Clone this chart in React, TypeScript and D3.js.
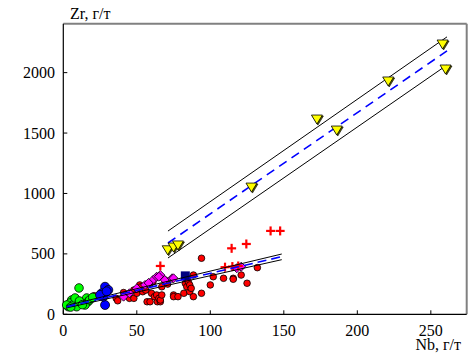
import React from "react";
import * as d3 from "d3";

const W = 471, H = 353;

const xTicks = [0, 50, 100, 150, 200, 250];
const yTicks = [0, 500, 1000, 1500, 2000];

const greenNb = [10.7, 5.7, 8, 4.6, 6.6, 3.4, 2.3, 12.5, 15.9, 16.8, 9.1, 14.8, 8, 18, 20, 11, 5, 13];
const greenZr = [218, 118, 104, 94, 77, 63, 77, 94, 135, 104, 63, 77, 135, 120, 140, 110, 60, 80];

const blueNb = [28.4, 30.6, 26.1, 28.4, 27.2, 25, 29.5];
const blueZr = [228, 201, 174, 77, 146, 160, 190];

const redNb = [21, 36, 37, 43, 45, 48, 48, 50, 52, 53, 54, 57, 59, 59, 60, 61, 62, 63.5, 64, 65, 66, 66, 67, 67, 69, 75, 75, 78, 82, 83, 84, 84, 85, 86, 86, 87, 88.5, 88.5, 94, 94, 100, 102, 109, 115.6, 115.6, 121, 125, 132, 41, 56, 71];
const redZr = [154, 132, 112, 160, 132, 132, 201, 174, 243, 228, 187, 104, 104, 256, 174, 270, 146, 160, 104, 132, 104, 118, 228, 160, 284, 160, 146, 146, 174, 256, 228, 298, 270, 243, 187, 215, 146, 325, 174, 464, 243, 311, 298, 298, 290, 325, 257, 386, 180, 200, 250];

const magNb = [41, 45, 50, 55.6, 61, 63.5, 66, 69, 74, 75, 118, 121, 65, 58];
const magZr = [146, 174, 215, 243, 284, 311, 325, 284, 298, 298, 381, 394, 311, 260];

const plusNb = [66, 110, 115, 119, 114.5, 124.5, 141, 147.5];
const plusZr = [400, 390, 395, 400, 546, 582, 690, 690];

const squareNb = [83];
const squareZr = [318];

const yelNb = [71, 75, 78, 128, 172.5, 186, 221, 258, 260];
const yelZr = [534, 557, 574, 1053, 1616, 1525, 1931, 2237, 2030];

// regression lines: [Nb0, Zr0, Nb1, Zr1]
const upperMid = [71.2, 590, 261, 2180];
const upperHi = [71.2, 689, 261, 2296];
const upperLo = [71.2, 466, 261, 2063];
const lowerMid = [2.3, 63, 148.6, 477];
const lowerHi = [2.3, 73, 148.6, 499];
const lowerLo = [2.3, 53, 148.6, 452];

const X0 = 63.3, X1 = 466.7, Y0 = 314.3, Y1 = 23.7;
const FONT = "'Liberation Serif', 'Times New Roman', Times, 'DejaVu Serif', serif";

export default function App() {
  const x = d3.scaleLinear().domain([0, 274.4]).range([X0, X1]);
  const y = d3.scaleLinear().domain([0, 2405]).range([Y0, Y1]);
  const ts = { fontFamily: FONT, fontSize: "16px" };

  const circles = (nb: number[], zr: number[], fill: string, r: number, key: string) =>
    nb.map((v, i) => (
      <circle key={key + i} cx={x(v)} cy={y(zr[i])} r={r} fill={fill} stroke="#000" strokeWidth={0.8} />
    ));

  const seg = (s: number[], stroke: string, w: number, dash?: string) => (
    <line x1={x(s[0])} y1={y(s[1])} x2={x(s[2])} y2={y(s[3])} stroke={stroke} strokeWidth={w} strokeDasharray={dash} />
  );

  const diamond = (cx: number, cy: number) => {
    const a = 4.5;
    return `M${cx},${cy - a}L${cx + a},${cy}L${cx},${cy + a}L${cx - a},${cy}Z`;
  };
  const tri = (cx: number, cy: number) => {
    const a = 5.5;
    return `M${cx - a},${cy - 4}L${cx + a},${cy - 4}L${cx},${cy + 5}Z`;
  };

  return (
    <svg width={W} height={H} style={{ position: "absolute", left: 0, top: 0, background: "#fff" }}>
      <rect x={0} y={0} width={W} height={H} fill="#fff" />
      {/* frame */}
      <line x1={X0} y1={Y1} x2={X1} y2={Y1} stroke="#808080" strokeWidth={2} />
      <line x1={X1} y1={Y1} x2={X1} y2={Y0} stroke="#808080" strokeWidth={2} />
      <line x1={X0} y1={Y1} x2={X0} y2={Y0} stroke="#000" strokeWidth={1.2} />
      <line x1={X0} y1={Y0} x2={X1} y2={Y0} stroke="#000" strokeWidth={1.2} />
      {xTicks.map((t) => (
        <g key={"xt" + t}>
          <line x1={x(t)} x2={x(t)} y1={Y0} y2={Y0 - 4} stroke="#000" />
          <text x={x(t)} y={336} textAnchor="middle" style={ts} fill="#000">{t}</text>
        </g>
      ))}
      {yTicks.map((t) => (
        <g key={"yt" + t}>
          <line x1={X0} x2={X0 + 4} y1={y(t)} y2={y(t)} stroke="#000" />
          <text x={55} y={y(t) + 5.5} textAnchor="end" style={ts} fill="#000">{t}</text>
        </g>
      ))}
      <text x={70} y={19} style={ts} fill="#000">Zr, г/т</text>
      <text x={461} y={350} textAnchor="end" style={ts} fill="#000">Nb, г/т</text>

      {/* markers */}
      {circles(redNb, redZr, "#ff0000", 3.3, "r")}
      {magNb.map((v, i) => (
        <path key={"m" + i} d={diamond(x(v), y(magZr[i]))} fill="#ff00ff" stroke="#000" strokeWidth={0.8} />
      ))}
      {circles(greenNb, greenZr, "#00ff00", 4.3, "g")}
      {circles(blueNb, blueZr, "#0000ff", 4.5, "b")}
      {squareNb.map((v, i) => (
        <rect key={"s" + i} x={x(v) - 4.5} y={y(squareZr[i]) - 4.5} width={9} height={9} fill="#000080" />
      ))}
      {plusNb.map((v, i) => {
        const cx = x(v), cy = y(plusZr[i]);
        return (
          <g key={"p" + i} stroke="#ff0000" strokeWidth={2.2}>
            <line x1={cx - 4.5} x2={cx + 4.5} y1={cy} y2={cy} />
            <line x1={cx} x2={cx} y1={cy - 4.5} y2={cy + 4.5} />
          </g>
        );
      })}

      {/* regression lines */}
      {seg(lowerHi, "#000", 1)}
      {seg(lowerLo, "#000", 1)}
      {seg(lowerMid, "#0000ff", 1.6, "9 5")}
      {seg(upperHi, "#000", 1)}
      {seg(upperLo, "#000", 1)}
      {seg(upperMid, "#0000ff", 1.6, "9 6")}

      {yelNb.map((v, i) => (
        <g key={"y" + i}>
          <path d={tri(x(v) + 1, y(yelZr[i]) + 1)} fill="#606000" stroke="#000" strokeWidth={0.6} />
          <path d={tri(x(v), y(yelZr[i]))} fill="#ffff00" stroke="#000" strokeWidth={0.8} />
        </g>
      ))}
    </svg>
  );
}
